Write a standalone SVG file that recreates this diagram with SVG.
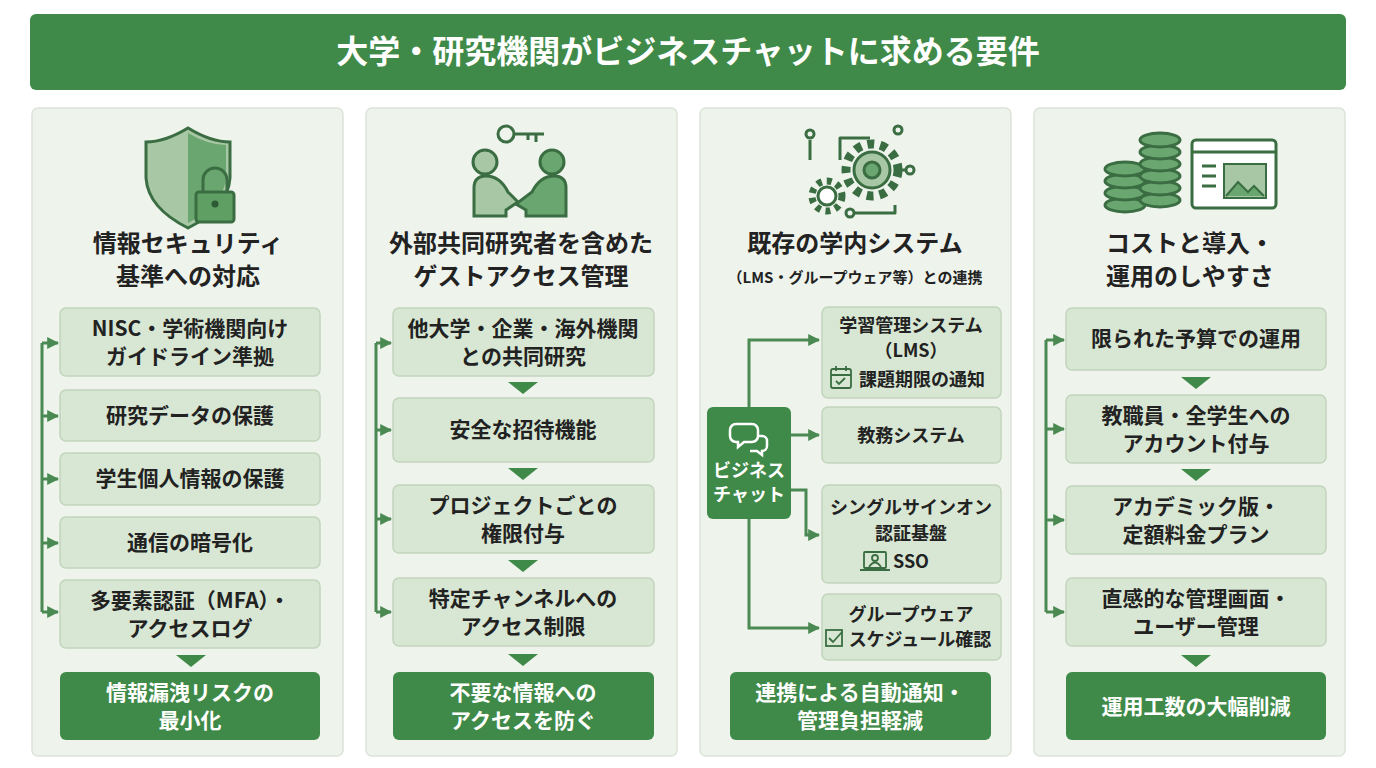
<svg xmlns="http://www.w3.org/2000/svg" width="1376" height="768" viewBox="0 0 1376 768">
<defs>
<style>
text{font-family:"Noto Sans CJK JP","Noto Sans",sans-serif;font-weight:700;text-anchor:middle;fill:#222}
.panel{fill:#eef3ec;stroke:#dbe4d8;stroke-width:1.5}
.box{fill:#d8e7d3;stroke:#c2d5bc;stroke-width:1.5}
.dark{fill:#3f8a48}
.w{fill:#fff}
.t{font-size:24px}
.i{font-size:21px}
.s{font-size:18px}
.ln{fill:none;stroke:#4a8a52;stroke-width:3}
.ar{fill:none;stroke:#4a8a52;stroke-width:3;marker-end:url(#a)}
.tri{fill:#3f8a48}
.ic{fill:none;stroke:#3a6e42;stroke-width:3;stroke-linejoin:round}
</style>
<marker id="a" viewBox="0 0 10 10" refX="9" refY="5" markerWidth="4" markerHeight="4" orient="auto"><path d="M0,0L10,5L0,10z" fill="#4a8a52"/></marker>
</defs>
<rect width="1376" height="768" fill="#fff"/>
<g id="title"><rect x="30" y="14" width="1316" height="76" rx="6" class="dark"/><text x="688" y="63" class="w" style="font-size:32px">大学・研究機関がビジネスチャットに求める要件</text></g>

<g id="p1">
<rect x="32" y="108" width="311" height="648" rx="6" class="panel"/>
<path d="M188,128 Q165,142 146,142 L146,178 Q148,208 188,228 Q228,208 230,178 L230,142 Q211,142 188,128z" fill="#a8c7a4" stroke="#3a6e42" stroke-width="3"/>
<path d="M188,133 L188,223 Q224,204 226,178 L226,145 Q208,145 188,133z" fill="#6aa66f"/>
<path d="M203,192 v-12 a12,12 0 0 1 24,0 v12" class="ic"/>
<rect x="196" y="192" width="38" height="30" rx="3" fill="#5f9f64" stroke="#3a6e42" stroke-width="3"/>
<circle cx="215" cy="204" r="3.5" fill="#2c5a32"/>
<text x="188" y="252" class="t">情報セキュリティ</text><text x="188" y="285" class="t">基準への対応</text>
<rect x="60" y="308" width="260" height="68" rx="6" class="box"/><text x="190" y="336" class="i">NISC・学術機関向け</text><text x="190" y="364" class="i">ガイドライン準拠</text>
<rect x="60" y="390" width="260" height="51" rx="6" class="box"/><text x="190" y="423" class="i">研究データの保護</text>
<rect x="60" y="453" width="260" height="52" rx="6" class="box"/><text x="190" y="486" class="i">学生個人情報の保護</text>
<rect x="60" y="517" width="260" height="51" rx="6" class="box"/><text x="190" y="550" class="i">通信の暗号化</text>
<rect x="60" y="580" width="260" height="68" rx="6" class="box"/><text x="190" y="608" class="i">多要素認証（MFA）・</text><text x="190" y="636" class="i">アクセスログ</text>
<path d="M176,655h30l-15,12z" class="tri"/>
<rect x="60" y="672" width="260" height="68" rx="6" class="dark"/><text x="190" y="700" class="i w">情報漏洩リスクの</text><text x="190" y="728" class="i w">最小化</text>
</g>

<g id="p2">
<rect x="366" y="108" width="311" height="648" rx="6" class="panel"/>
<circle cx="485" cy="162" r="12" fill="#a8c7a4" stroke="#3a6e42" stroke-width="3"/>
<circle cx="552" cy="162" r="12" fill="#6aa66f" stroke="#3a6e42" stroke-width="3"/>
<path d="M474,216 v-28 q0,-12 12,-12 q14,0 22,16 l10,10 l-12,8 v6z" fill="#a8c7a4" stroke="#3a6e42" stroke-width="3"/>
<path d="M566,216 v-28 q0,-12 -12,-12 q-14,0 -22,16 l-16,12 l10,6 v6z" fill="#6aa66f" stroke="#3a6e42" stroke-width="3"/>
<circle cx="506" cy="134" r="8" class="ic"/><path d="M514,134h30m-8,0v8m-8,-8v6" class="ic"/>
<text x="521" y="252" class="t">外部共同研究者を含めた</text><text x="521" y="285" class="t">ゲストアクセス管理</text>
<rect x="393" y="308" width="261" height="68" rx="6" class="box"/><text x="523" y="336" class="i">他大学・企業・海外機関</text><text x="523" y="364" class="i">との共同研究</text>
<path d="M508,382h30l-15,12z" class="tri"/>
<rect x="393" y="398" width="261" height="64" rx="6" class="box"/><text x="523" y="437" class="i">安全な招待機能</text>
<path d="M508,468h30l-15,12z" class="tri"/>
<rect x="393" y="485" width="261" height="68" rx="6" class="box"/><text x="523" y="513" class="i">プロジェクトごとの</text><text x="523" y="541" class="i">権限付与</text>
<path d="M508,560h30l-15,12z" class="tri"/>
<rect x="393" y="578" width="261" height="68" rx="6" class="box"/><text x="523" y="606" class="i">特定チャンネルへの</text><text x="523" y="634" class="i">アクセス制限</text>
<path d="M508,654h30l-15,12z" class="tri"/>
<rect x="393" y="672" width="261" height="68" rx="6" class="dark"/><text x="523" y="700" class="i w">不要な情報への</text><text x="523" y="728" class="i w">アクセスを防ぐ</text>
</g>

<g id="p3">
<rect x="700" y="108" width="311" height="648" rx="6" class="panel"/>
<circle cx="872" cy="170" r="26" fill="none" stroke="#3a6e42" stroke-width="9" stroke-dasharray="7 6"/>
<circle cx="872" cy="170" r="18" fill="#a8c7a4" stroke="#3a6e42" stroke-width="3"/><circle cx="872" cy="170" r="8" fill="#6aa66f" stroke="#3a6e42" stroke-width="3"/>
<circle cx="827" cy="196" r="15" fill="none" stroke="#3a6e42" stroke-width="7" stroke-dasharray="5 5"/><circle cx="827" cy="196" r="9" fill="#fff" stroke="#3a6e42" stroke-width="3"/>
<path d="M840,160v-22h30M905,170h-5M895,205v8h-40M810,160v-20" class="ic"/>
<circle cx="810" cy="134" r="4" class="ic"/><circle cx="898" cy="130" r="4" class="ic"/><circle cx="910" cy="170" r="4" class="ic"/><circle cx="850" cy="213" r="4" class="ic"/>
<text x="855" y="252" class="t">既存の学内システム</text><text x="855" y="283" style="font-size:15px">（LMS・グループウェア等）との連携</text>
<rect x="707" y="407" width="84" height="112" rx="6" class="dark"/>
<path d="M736,424h16a6,6 0 0 1 6,6v6a6,6 0 0 1 -6,6h-8l-6,5v-5h-2a6,6 0 0 1 -6,-6v-6a6,6 0 0 1 6,-6z" fill="none" stroke="#fff" stroke-width="2.5"/>
<path d="M758,436h4a5,5 0 0 1 5,5v5a5,5 0 0 1 -5,5v4l-5,-4h-7" fill="none" stroke="#fff" stroke-width="2.5"/>
<text x="749" y="477" class="w" style="font-size:18px">ビジネス</text><text x="749" y="501" class="w" style="font-size:18px">チャット</text>
<rect x="822" y="307" width="179" height="91" rx="6" class="box"/><text x="911" y="332" class="s">学習管理システム</text><text x="911" y="357" class="s">（LMS）</text>
<rect x="831" y="369" width="20" height="19" rx="2" fill="none" stroke="#3a6e42" stroke-width="1.8"/><path d="M831,375h20M836,366v5M846,366v5M836,381l3,3l6,-6" fill="none" stroke="#3a6e42" stroke-width="1.8"/>
<text x="922" y="386" class="s">課題期限の通知</text>
<rect x="822" y="407" width="179" height="56" rx="6" class="box"/><text x="911" y="442" class="s">教務システム</text>
<rect x="822" y="485" width="179" height="98" rx="6" class="box"/><text x="911" y="514" class="s">シングルサインオン</text><text x="911" y="540" class="s">認証基盤</text>
<rect x="864" y="552" width="22" height="16" rx="1" fill="none" stroke="#3a6e42" stroke-width="1.8"/><path d="M860,570h30M869,567q6,-9 12,0" fill="none" stroke="#3a6e42" stroke-width="1.8"/><circle cx="875" cy="558" r="3" fill="none" stroke="#3a6e42" stroke-width="1.8"/>
<text x="911" y="568" class="s">SSO</text>
<rect x="822" y="594" width="179" height="66" rx="6" class="box"/><text x="911" y="621" class="s">グループウェア</text>
<rect x="826" y="630" width="16" height="16" fill="none" stroke="#3a6e42" stroke-width="1.8"/><path d="M829,638l4,4l9,-10" fill="none" stroke="#3a6e42" stroke-width="1.8"/>
<text x="920" y="646" class="s">スケジュール確認</text>
<rect x="730" y="672" width="261" height="68" rx="6" class="dark"/><text x="860" y="700" class="i w">連携による自動通知・</text><text x="860" y="728" class="i w">管理負担軽減</text>
</g>

<g id="p4">
<rect x="1034" y="108" width="311" height="648" rx="6" class="panel"/>
<g fill="#6aa66f" stroke="#3a6e42" stroke-width="3">
<ellipse cx="1125" cy="205" rx="20" ry="7"/><ellipse cx="1125" cy="193" rx="20" ry="7"/><ellipse cx="1125" cy="181" rx="20" ry="7"/><ellipse cx="1125" cy="169" rx="20" ry="7"/>
<ellipse cx="1160" cy="200" rx="20" ry="7"/><ellipse cx="1160" cy="188" rx="20" ry="7"/><ellipse cx="1160" cy="176" rx="20" ry="7"/><ellipse cx="1160" cy="164" rx="20" ry="7"/><ellipse cx="1160" cy="152" rx="20" ry="7"/><ellipse cx="1160" cy="140" rx="20" ry="7"/>
</g>
<rect x="1192" y="140" width="84" height="68" rx="4" fill="#fff" stroke="#3a6e42" stroke-width="3"/>
<path d="M1192,152h84M1202,166h14M1202,176h14M1202,186h14" class="ic"/>
<rect x="1224" y="164" width="42" height="34" fill="#a8c7a4" stroke="#3a6e42" stroke-width="2"/>
<path d="M1226,196l12,-14l10,10l6,-6l10,10" fill="#6aa66f" stroke="#3a6e42" stroke-width="2"/>
<text x="1190" y="252" class="t">コストと導入・</text><text x="1190" y="285" class="t">運用のしやすさ</text>
<rect x="1066" y="308" width="260" height="62" rx="6" class="box"/><text x="1196" y="346" class="i">限られた予算での運用</text>
<path d="M1181,377h30l-15,12z" class="tri"/>
<rect x="1066" y="395" width="260" height="68" rx="6" class="box"/><text x="1196" y="423" class="i">教職員・全学生への</text><text x="1196" y="451" class="i">アカウント付与</text>
<path d="M1181,469h30l-15,12z" class="tri"/>
<rect x="1066" y="486" width="260" height="68" rx="6" class="box"/><text x="1196" y="514" class="i">アカデミック版・</text><text x="1196" y="542" class="i">定額料金プラン</text>
<rect x="1066" y="578" width="260" height="68" rx="6" class="box"/><text x="1196" y="606" class="i">直感的な管理画面・</text><text x="1196" y="634" class="i">ユーザー管理</text>
<path d="M1181,655h30l-15,12z" class="tri"/>
<rect x="1066" y="672" width="260" height="68" rx="6" class="dark"/><text x="1196" y="714" class="i w">運用工数の大幅削減</text>
</g>

<g id="connectors">
<path d="M42,343V612" class="ln"/>
<path d="M42,343H58" class="ar"/><path d="M42,416H58" class="ar"/><path d="M42,479H58" class="ar"/><path d="M42,543H58" class="ar"/><path d="M42,612H58" class="ar"/>
<path d="M376,343V612" class="ln"/>
<path d="M376,343H391" class="ar"/><path d="M376,430H391" class="ar"/><path d="M376,519H391" class="ar"/><path d="M376,612H391" class="ar"/>
<path d="M749,407V340H819" class="ar"/><path d="M791,435H819" class="ar"/><path d="M791,490H806V535H819" class="ar"/><path d="M749,519V628H819" class="ar"/>
<path d="M1046,340V612" class="ln"/>
<path d="M1046,340H1064" class="ar"/><path d="M1046,429H1064" class="ar"/><path d="M1046,520H1064" class="ar"/><path d="M1046,612H1064" class="ar"/>
</g>
</svg>
